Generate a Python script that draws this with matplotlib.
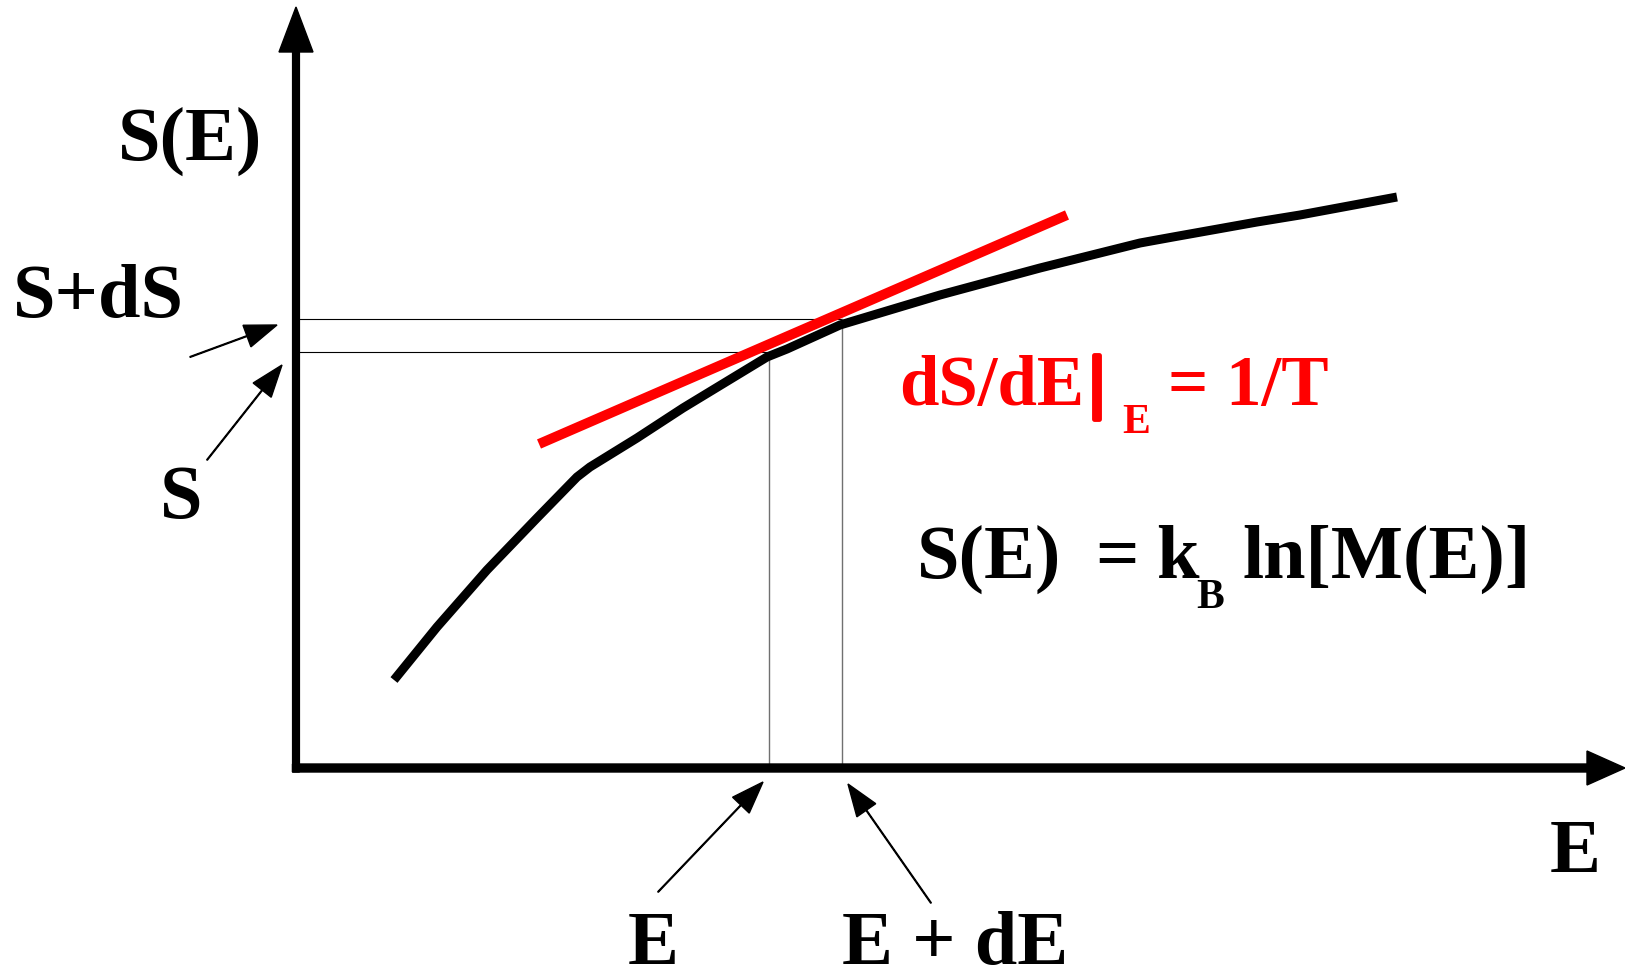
import matplotlib.pyplot as plt
import matplotlib.patheffects as pe

# S(E) curve, energy / entropy in arbitrary units
energy = [0.98, 1.41, 1.91, 2.41, 2.81, 2.94, 3.41, 3.87, 4.71, 4.91,
          5.44, 6.44, 7.44, 8.44, 8.77, 9.61, 10.04, 11.01]
entropy = [0.88, 1.41, 1.98, 2.50, 2.91, 3.01, 3.30, 3.60, 4.11, 4.19,
           4.43, 4.73, 5.00, 5.25, 5.31, 5.46, 5.53, 5.71]

# tangent line at E (slope = 1/T)
tangent_E = [2.43, 7.71]
tangent_S = [3.24, 5.53]

# the two energies and entropies marked on the axes
E_marks = [4.73, 5.46]
S_marks = [4.16, 4.49]

plt.rcParams['font.family'] = ['Liberation Serif', 'DejaVu Serif']
plt.rcParams['font.weight'] = 'bold'

fig = plt.figure(figsize=(16.25, 9.69), dpi=100)
ax = fig.add_axes([0, 0, 1, 1])
ax.set_xlim(-2.96, 13.29)
ax.set_ylim(-2.01, 7.68)
ax.axis('off')

# axes drawn as thick arrows
ax.arrow(-0.035, 0, 13.325, 0, width=0.08, head_width=0.34, head_length=0.38,
         length_includes_head=True, color='black', zorder=3)
ax.arrow(0, -0.04, 0, 7.65, width=0.068, head_width=0.34, head_length=0.45,
         length_includes_head=True, color='black', zorder=3)

# guide lines from the axes to the curve
for e, s in zip(E_marks, S_marks):
    ax.plot([0.04, e], [s, s], color='black', lw=0.8, zorder=1)
    ax.plot([e, e], [0, s], color='#707070', lw=1.0, zorder=1)

ax.plot(energy, entropy, color='black', lw=6.5, solid_capstyle='butt',
        solid_joinstyle='round', zorder=2)
ax.plot(tangent_E, tangent_S, color='#ff0000', lw=7.2, solid_capstyle='butt',
        zorder=2)

# small pointer arrows
pointers = [
    ((-1.06, 4.11), (-0.19, 4.43)),
    ((-0.89, 3.08), (-0.14, 4.03)),
    ((3.62, -1.24), (4.67, -0.14)),
    ((6.35, -1.35), (5.52, -0.16)),
]
for (x0, y0), (x1, y1) in pointers:
    ax.arrow(x0, y0, x1 - x0, y1 - y0, width=0.008, head_width=0.23,
             head_length=0.32, length_includes_head=True, color='black')

big = 55
ax.text(-1.06, 6.08, 'S(E)', fontsize=big, ha='center', va='baseline')
ax.text(-1.98, 4.51, 'S+dS', fontsize=big, ha='center', va='baseline')
ax.text(-1.15, 2.50, 'S', fontsize=big, ha='center', va='baseline')
ax.text(3.57, -1.96, 'E', fontsize=big, ha='center', va='baseline')
ax.text(6.59, -1.96, 'E + dE', fontsize=big, ha='center', va='baseline')
ax.text(12.79, -1.04, 'E', fontsize=big, ha='center', va='baseline')

# derivative label
red = '#ff0000'
ax.text(6.03, 3.63, 'dS/dE', fontsize=51, color=red, ha='left', va='baseline')
ax.text(8.01, 3.815, '|', fontsize=51, color=red, ha='center', va='center',
        path_effects=[pe.withStroke(linewidth=3.5, foreground=red)])
ax.text(8.26, 3.35, 'E', fontsize=30, color=red, ha='left', va='baseline')
ax.text(8.72, 3.63, '= 1/T', fontsize=51, color=red, ha='left', va='baseline')

# Boltzmann entropy formula
ax.text(6.21, 1.90, 'S(E)', fontsize=big, ha='left', va='baseline')
ax.text(7.99, 1.90, '=', fontsize=big, ha='left', va='baseline')
ax.text(8.60, 1.90, 'k', fontsize=big, ha='left', va='baseline')
ax.text(9.00, 1.60, 'B', fontsize=30, ha='left', va='baseline')
ax.text(9.47, 1.90, 'ln[M(E)]', fontsize=big, ha='left', va='baseline')

fig.savefig('out.png', dpi=100)
